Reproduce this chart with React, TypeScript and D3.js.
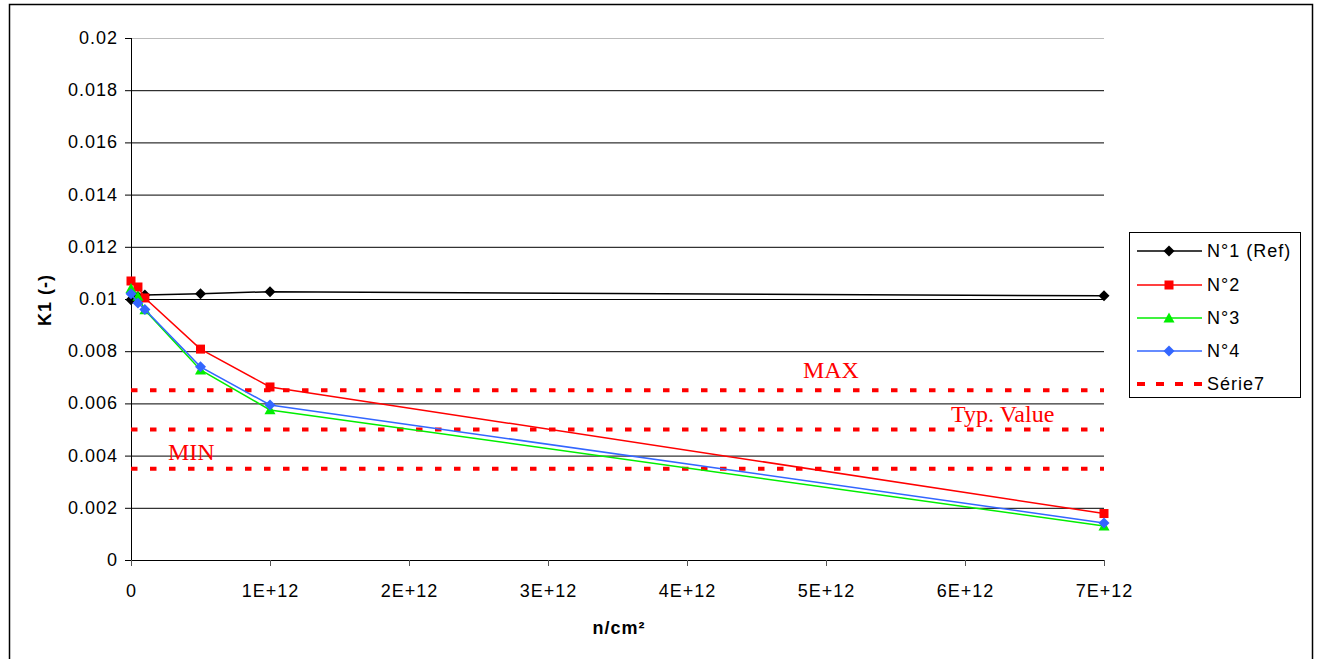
import React from "react";
import * as d3 from "d3";

const xValues = [0, 5e10, 1e11, 5e11, 1e12, 7e12];
const n1Ref = [0.00997, 0.0101, 0.01015, 0.0102, 0.01028, 0.01012];
const n2 = [0.01069, 0.01046, 0.01004, 0.00808, 0.00663, 0.00178];
const n3 = [0.0104, 0.0101, 0.00958, 0.00728, 0.00575, 0.0013];
const n4 = [0.0102, 0.00985, 0.0096, 0.0074, 0.00594, 0.00142];
const limitValues = [0.0065, 0.005, 0.0035];
const limitLabels = ["MAX", "Typ. Value", "MIN"];
const limitLabelX = [4.834e12, 5.9e12, 0.266e12];
const limitLabelDy = [-12, -7.5, -9];
const yTicks = [0, 0.002, 0.004, 0.006, 0.008, 0.01, 0.012, 0.014, 0.016, 0.018, 0.02];
const xTicks = [0, 1e12, 2e12, 3e12, 4e12, 5e12, 6e12, 7e12];
const xTickLabels = ["0", "1E+12", "2E+12", "3E+12", "4E+12", "5E+12", "6E+12", "7E+12"];
const legendNames = ["N°1 (Ref)", "N°2", "N°3", "N°4", "Série7"];

const series = [
  { name: legendNames[0], values: n1Ref, color: "#000000", marker: "diamond" },
  { name: legendNames[1], values: n2, color: "#ff0000", marker: "square" },
  { name: legendNames[2], values: n3, color: "#00ee00", marker: "triangle" },
  { name: legendNames[3], values: n4, color: "#3366ff", marker: "diamond" },
];

const x = d3.scaleLinear().domain([0, 7e12]).range([131, 1104]);
const y = d3.scaleLinear().domain([0, 0.02]).range([560, 38]);

function Marker({ type, cx, cy, color }: { type: string; cx: number; cy: number; color: string }) {
  if (type === "square") {
    return <rect x={cx - 4.5} y={cy - 4.5} width={9} height={9} fill={color} />;
  }
  if (type === "triangle") {
    const s = 5.5;
    return <path d={`M${cx},${cy - s} L${cx + s},${cy + s * 0.8} L${cx - s},${cy + s * 0.8} Z`} fill={color} />;
  }
  const s = 5.5;
  return <path d={`M${cx},${cy - s} L${cx + s},${cy} L${cx},${cy + s} L${cx - s},${cy} Z`} fill={color} />;
}

export default function App() {
  const line = d3
    .line<number>()
    .x((_, i) => x(xValues[i]))
    .y((d) => y(d));
  const font = "'Liberation Sans', Arial, sans-serif";
  const serif = "'Liberation Serif', 'Times New Roman', serif";
  const legendRows = [251, 285, 318, 351, 384];
  return (
    <svg
      width={1319}
      height={659}
      style={{ position: "absolute", left: 0, top: 0, background: "#fff" }}
    >
      <rect x={9.5} y={4.5} width={1303} height={700} fill="#fff" stroke="#000" strokeWidth={1.5} />
      {/* gridlines */}
      {yTicks.map((t, i) => (
        <g key={"g" + i}>
          <line x1={x(0)} x2={x(7e12)} y1={y(t) + 0.5} y2={y(t) + 0.5} stroke={i === yTicks.length - 1 ? "#bbb" : "#000"} strokeWidth={1} />
          <line x1={125} x2={131} y1={y(t) + 0.5} y2={y(t) + 0.5} stroke="#000" strokeWidth={1} />
          <text x={118} y={y(t)} textAnchor="end" dominantBaseline="central" fontFamily={font} fontSize={18} letterSpacing={1}>
            {String(t)}
          </text>
        </g>
      ))}
      <line x1={131.5} x2={131.5} y1={y(0.02)} y2={y(0) + 5} stroke="#000" strokeWidth={1} />
      {xTicks.map((t, i) => (
        <g key={"x" + i}>
          <line x1={x(t) + 0.5} x2={x(t) + 0.5} y1={y(0)} y2={y(0) + 6} stroke="#555" strokeWidth={1} />
          <text x={x(t) + 0.5} y={591} textAnchor="middle" dominantBaseline="central" fontFamily={font} fontSize={18} letterSpacing={1}>
            {xTickLabels[i]}
          </text>
        </g>
      ))}
      {/* limit lines */}
      {limitValues.map((v, i) => (
        <line key={"l" + i} x1={x(0)} x2={x(7e12)} y1={y(v)} y2={y(v)} stroke="#ff0000" strokeWidth={4} strokeDasharray="6.5 12.5" />
      ))}
      {/* series */}
      {series.map((s) => (
        <g key={s.name}>
          <path d={line(s.values) || ""} fill="none" stroke={s.color} strokeWidth={1.5} />
          {s.values.map((v, i) => (
            <Marker key={i} type={s.marker} cx={x(xValues[i])} cy={y(v)} color={s.color} />
          ))}
        </g>
      ))}
      {/* limit labels */}
      {limitValues.map((v, i) => (
        <text key={"t" + i} x={x(limitLabelX[i])} y={y(v) + limitLabelDy[i]} fill="#ff0000" fontFamily={serif} fontSize={24} textAnchor="start">
          {limitLabels[i]}
        </text>
      ))}
      {/* axis titles */}
      <text
        transform={`translate(45,300) rotate(-90)`}
        textAnchor="middle"
        dominantBaseline="central"
        fontFamily={font}
        fontSize={18}
        fontWeight="bold"
        letterSpacing={1}
      >
        K1 (-)
      </text>
      <text x={619} y={634} textAnchor="middle" fontFamily={font} fontSize={18} fontWeight="bold" letterSpacing={1}>
        n/cm²
      </text>
      {/* legend */}
      <rect x={1129.5} y={232.5} width={171} height={165} fill="#fff" stroke="#000" strokeWidth={1} />
      {series.map((s, i) => (
        <g key={"lg" + i}>
          <line x1={1137} x2={1202} y1={legendRows[i]} y2={legendRows[i]} stroke={s.color} strokeWidth={1.5} />
          <Marker type={s.marker} cx={1169} cy={legendRows[i]} color={s.color} />
          <text x={1207} y={legendRows[i]} dominantBaseline="central" fontFamily={font} fontSize={18} letterSpacing={1}>
            {s.name}
          </text>
        </g>
      ))}
      <line x1={1137} x2={1202} y1={legendRows[4]} y2={legendRows[4]} stroke="#ff0000" strokeWidth={4} strokeDasharray="8 11" />
      <text x={1207} y={legendRows[4]} dominantBaseline="central" fontFamily={font} fontSize={18} letterSpacing={1}>
        {legendNames[4]}
      </text>
    </svg>
  );
}
